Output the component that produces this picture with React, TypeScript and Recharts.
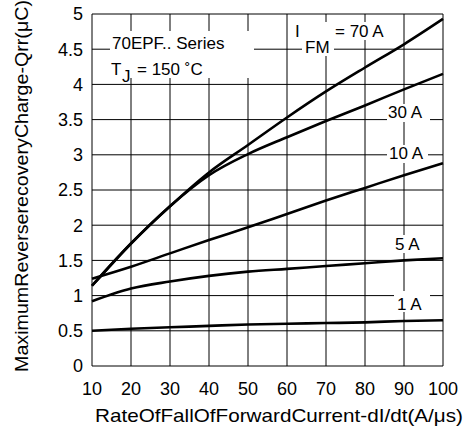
import React from "react";
import { LineChart, Line, XAxis, YAxis, CartesianGrid } from "recharts";

const dIdt = [10, 20, 30, 40, 50, 60, 70, 80, 90, 100];
const q70A = [1.14, 1.74, 2.27, 2.75, 3.14, 3.53, 3.9, 4.24, 4.57, 4.93];
const q30A = [1.14, 1.74, 2.27, 2.71, 3.01, 3.25, 3.48, 3.7, 3.93, 4.15];
const q10A = [1.24, 1.41, 1.6, 1.79, 1.97, 2.16, 2.35, 2.53, 2.71, 2.88];
const q5A = [0.92, 1.1, 1.2, 1.28, 1.34, 1.38, 1.42, 1.46, 1.5, 1.53];
const q1A = [0.5, 0.53, 0.55, 0.57, 0.59, 0.6, 0.61, 0.62, 0.64, 0.65];

const xTicks = [10, 20, 30, 40, 50, 60, 70, 80, 90, 100];
const yTicks = [0, 0.5, 1, 1.5, 2, 2.5, 3, 3.5, 4, 4.5, 5];

const xTitle = "RateOfFallOfForwardCurrent-dI/dt(A/μs)";
const yTitle = "MaximumReverserecoveryCharge-Qrr(μC)";

const data = dIdt.map((x, i) => ({
  x,
  a70: q70A[i],
  a30: q30A[i],
  a10: q10A[i],
  a5: q5A[i],
  a1: q1A[i],
}));

const FONT = "'Liberation Sans', Arial, sans-serif";

export default function App() {
  const series = ["a70", "a30", "a10", "a5", "a1"];
  return (
    <div style={{ position: "absolute", left: 0, top: 0, width: 467, height: 430, background: "#fff" }}>
      <LineChart
        width={467}
        height={430}
        data={data}
        margin={{ top: 14, right: 24, bottom: 0, left: 0 }}
      >
        <CartesianGrid stroke="#000" strokeWidth={1} />
        <XAxis
          dataKey="x"
          type="number"
          domain={[10, 100]}
          ticks={xTicks}
          axisLine={false}
          tickLine={false}
          tickSize={0}
          tickMargin={16}
          height={64}
          interval={0}
          tick={{ fill: "#000", fontSize: 18, fontFamily: FONT }}
        />
        <YAxis
          type="number"
          domain={[0, 5]}
          ticks={yTicks}
          axisLine={false}
          tickLine={false}
          tickSize={0}
          tickMargin={9}
          width={92}
          interval={0}
          tick={{ fill: "#000", fontSize: 18, fontFamily: FONT }}
        />
        {series.map((k) => (
          <Line
            key={k}
            dataKey={k}
            type="monotone"
            stroke="#000"
            strokeWidth={2.6}
            dot={false}
            activeDot={false}
            isAnimationActive={false}
          />
        ))}
      </LineChart>
      <svg
        width={467}
        height={430}
        style={{ position: "absolute", left: 0, top: 0, pointerEvents: "none" }}
        fontFamily={FONT}
      >
        <rect x={110} y={31} width={144} height={47} fill="#fff" />
        <text x={112} y={49} fontSize={17} fill="#000">70EPF.. Series</text>
        <text x={111} y={75} fontSize={17} fill="#000">T</text>
        <text x={122} y={82} fontSize={17} fill="#000">J</text>
        <text x={137} y={75} fontSize={17} fill="#000">= 150 ˚C</text>

        <rect x={292} y={22} width={96} height={18} fill="#fff" />
        <rect x={302} y={40} width={32} height={16} fill="#fff" />
        <text x={295} y={37} fontSize={17} fill="#000">I</text>
        <text x={305} y={53} fontSize={17} fill="#000">FM</text>
        <text x={335} y={37} fontSize={17} fill="#000">= 70 A</text>

        <rect x={387} y={104} width={43} height={18} fill="#fff" />
        <text x={388} y={118} fontSize={17} fill="#000">30 A</text>

        <rect x={387} y={145} width={41} height={18} fill="#fff" />
        <text x={389} y={159} fontSize={17} fill="#000">10 A</text>

        <rect x={393} y={235} width={33} height={18} fill="#fff" />
        <text x={395} y={250} fontSize={17} fill="#000">5 A</text>

        <rect x={394} y={291} width={36} height={21} fill="#fff" />
        <text x={397} y={310} fontSize={17} fill="#000">1 A</text>

        <text
          x={279}
          y={422}
          fontSize={19}
          fill="#000"
          textAnchor="middle"
          textLength={368}
          lengthAdjust="spacingAndGlyphs"
        >
          {xTitle}
        </text>
        <text
          x={0}
          y={0}
          fontSize={19}
          fill="#000"
          textAnchor="middle"
          textLength={372}
          lengthAdjust="spacingAndGlyphs"
          transform="translate(28,186) rotate(-90)"
        >
          {yTitle}
        </text>
      </svg>
    </div>
  );
}
